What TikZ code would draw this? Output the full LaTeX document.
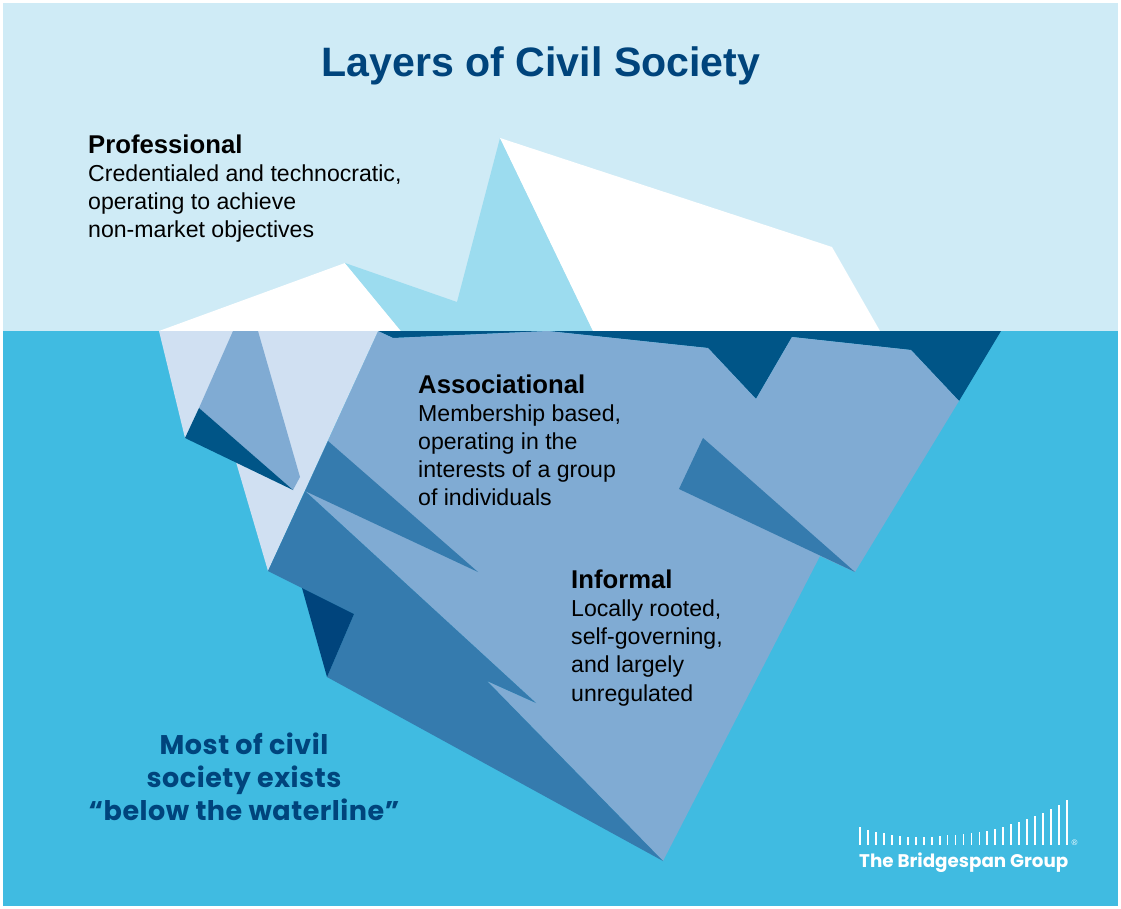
\documentclass[tikz,border=0pt]{standalone}
\usepackage{fontspec}
\setmainfont{Liberation Sans}
\newfontfamily\logofont{Poppins}
\newfontfamily\notefont[LetterSpace=1.9]{Poppins}
\definecolor{sky}{HTML}{CFEBF6}
\definecolor{water}{HTML}{40BBE1}
\definecolor{ice}{HTML}{9CDCEF}
\definecolor{body}{HTML}{80ABD3}
\definecolor{mid}{HTML}{357BAE}
\definecolor{band}{HTML}{005587}
\definecolor{navy}{HTML}{00447C}
\definecolor{pale}{HTML}{D0E0F2}
\tikzset{
  blocktext/.style={anchor=north west,inner sep=0pt,align=left,font=\fontsize{23.1}{28.1}\selectfont,text=black},
}
\newcommand{\headline}[1]{{\fontsize{25.7}{28.1}\selectfont\bfseries #1}}
\begin{document}
\begin{tikzpicture}[x=1pt,y=-1pt]
\useasboundingbox (0,0) rectangle (1121,909);
\fill[white] (0,0) rectangle (1121,909);
\fill[sky] (3,3) rectangle (1118,331);
\fill[water] (3,331) rectangle (1118,906);
% above water
\fill[white] (159,331) -- (345,263) -- (401,331) -- cycle;
\fill[ice] (345,263) -- (457,302) -- (500,138) -- (593,331) -- (401,331) -- cycle;
\fill[white] (500,138) -- (832,247) -- (880,331) -- (593,331) -- cycle;
% below water
\fill[band] (378,331) -- (1001,331) -- (959,401) -- (911,350) -- (792,337) -- (756,399) -- (708,348) -- (548,331) -- (393,338) -- cycle;
\fill[body] (378,331) -- (393,338) -- (548,331) -- (708,348) -- (756,399) -- (792,337) -- (911,350) -- (959,401) -- (855,572) -- (820,556) -- (663,861) -- (487,681) -- (536,703) -- (305,491) -- cycle;
\fill[pale] (159,331) -- (378,331) -- (268,571) -- (236,462) -- (200,441) -- (185,438) -- cycle;
\fill[body] (233,331) -- (258,331) -- (300,477) -- (293,490) -- (199,408) -- cycle;
\fill[band] (199,408) -- (293,490) -- (185,438) -- cycle;
\fill[mid] (328,441) -- (478,572) -- (305,491) -- cycle;
\fill[mid] (703,438) -- (855,572) -- (679,489) -- cycle;
\fill[mid] (305,491) -- (536,703) -- (487,681) -- (663,861) -- (327,677) -- (354,614) -- (302,588) -- (268,571) -- cycle;
\fill[navy] (302,588) -- (354,614) -- (327,677) -- cycle;
% text
\node[anchor=base,inner sep=0pt,text=navy,font=\fontsize{41.1}{46}\selectfont\bfseries] (title) at (541,77) {Layers of Civil Society};
\node[blocktext] (prof) at (88,134.4) {\headline{Professional}\\Credentialed and technocratic,\\operating to achieve\\non-market objectives};
\node[blocktext] (assoc) at (418,374.2) {\headline{Associational}\\Membership based,\\operating in the\\interests of a group\\of individuals};
\node[blocktext] (inf) at (571,569.8) {\headline{Informal}\\Locally rooted,\\self-governing,\\and largely\\unregulated};
\node[anchor=north,inner sep=0pt,align=center,text=navy,font=\notefont\bfseries\fontsize{27}{33.3}\selectfont] (note) at (244,732.5) {Most of civil\\society exists\\“below the waterline”};
% logo
\foreach \i/\t in {0/827,1/830,2/832,3/833,4/835,5/836,6/837,7/837,8/837,9/837,10/836,11/835,12/835,13/834,14/833,15/832,16/831,17/829,18/827,19/824,20/822,21/819,22/816,23/813,24/809,25/805,26/800}{
  \fill[white] ({859.1+7.96*\i},\t) rectangle ({860.9+7.96*\i},845);
}
\node[anchor=base west,inner sep=0pt,text=white,font=\logofont\bfseries\fontsize{18.3}{20}\selectfont] (logo) at (859,867) {The Bridgespan Group};
\node[anchor=center,inner sep=0pt,text=white,font=\fontsize{8}{8}\selectfont] (reg) at (1074.5,842.5) {®};
\end{tikzpicture}
\end{document}
